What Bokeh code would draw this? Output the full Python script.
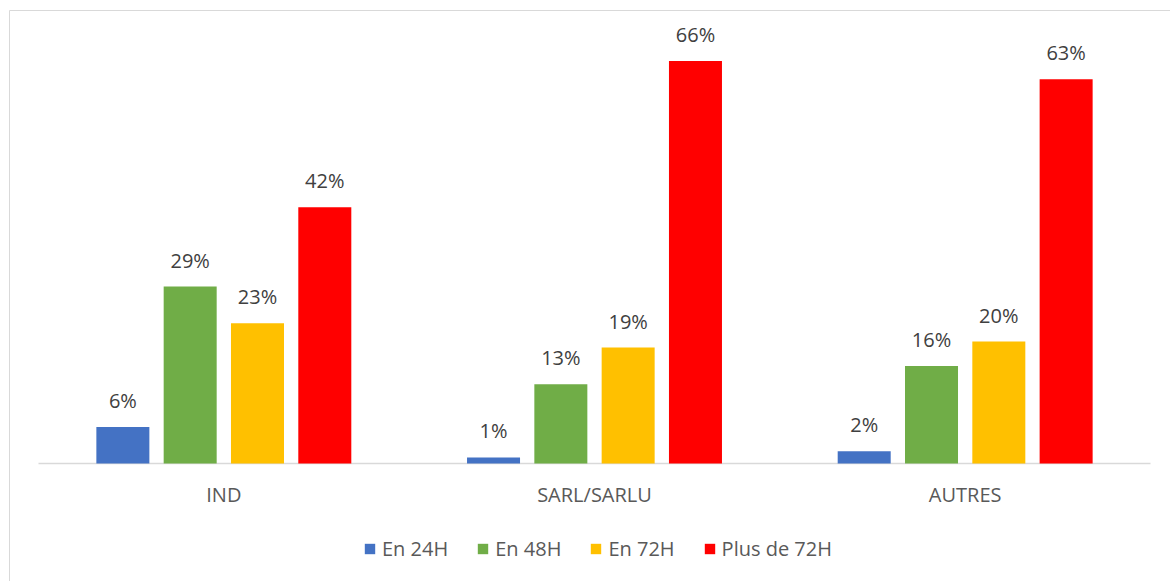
from bokeh.plotting import figure
from bokeh.models import ColumnDataSource, FactorRange, Legend, LegendItem, Range1d
from bokeh.transform import dodge
from bokeh.core.properties import value
from bokeh.embed import file_html
from bokeh.resources import INLINE

categories = ["IND", "SARL/SARLU", "AUTRES"]
series_names = ["En 24H", "En 48H", "En 72H", "Plus de 72H"]
en_24h = [6, 1, 2]
en_48h = [29, 13, 16]
en_72h = [23, 19, 20]
plus_72h = [42, 66, 63]
colors = ["#4472C4", "#70AD47", "#FFC000", "#FF0000"]

series_values = [en_24h, en_48h, en_72h, plus_72h]
offsets = [-0.2724, -0.0908, 0.0908, 0.2724]

FONT = value("Open Sans")

# layout (pixels)
FRAME_W, FRAME_H = 1170, 580
PX_PER_CAT = 1112 / len(categories)
PAD = 29 / PX_PER_CAT
PX_PER_UNIT = 441 / 72.3
BASE_FROM_TOP = 453
y_top = BASE_FROM_TOP / PX_PER_UNIT
y_bot = -(FRAME_H - BASE_FROM_TOP) / PX_PER_UNIT

p = figure(
    x_range=FactorRange(*categories, range_padding=PAD, range_padding_units="absolute"),
    y_range=Range1d(y_bot, y_top),
    frame_width=FRAME_W, frame_height=FRAME_H,
    output_backend="svg", toolbar_location=None,
    min_border_left=9, min_border_right=0,
    min_border_top=10, min_border_bottom=0,
    outline_line_color="#d9d9d9", outline_line_width=1,
)
p.grid.visible = False
p.axis.visible = False

# baseline of category axis
p.segment(x0=[0], x1=[len(categories)], y0=[0], y1=[0], line_color="#d9d9d9", line_width=1.5)

items = []
for name, vals, col, off in zip(series_names, series_values, colors, offsets):
    src = ColumnDataSource(dict(cat=categories, val=vals, lab=[f"{v}%" for v in vals]))
    r = p.vbar(x=dodge("cat", off, range=p.x_range), top="val", width=0.143,
               source=src, fill_color=col, line_color=None)
    p.text(x=dodge("cat", off, range=p.x_range), y="val", text="lab", source=src,
           text_align="center", text_baseline="bottom", y_offset=-13,
           text_font=FONT, text_font_size="20px", text_color="#404040")
    items.append(LegendItem(label=name, renderers=[r]))

cat_src = ColumnDataSource(dict(cat=categories, y=[0] * len(categories)))
p.text(x="cat", y="y", text="cat", source=cat_src, text_align="center",
       text_baseline="middle", y_offset=31, text_font=FONT,
       text_font_size="20px", text_color="#595959")

legend = Legend(items=items, orientation="horizontal", location=(354, 28),
                label_text_font="Open Sans", label_text_font_size="20px",
                label_text_color="#595959", glyph_width=13, glyph_height=13,
                spacing=28, label_standoff=6, border_line_color=None,
                background_fill_alpha=0, padding=0, margin=0)
p.add_layout(legend, "center")

open("out.html", "w").write(file_html(p, INLINE))
